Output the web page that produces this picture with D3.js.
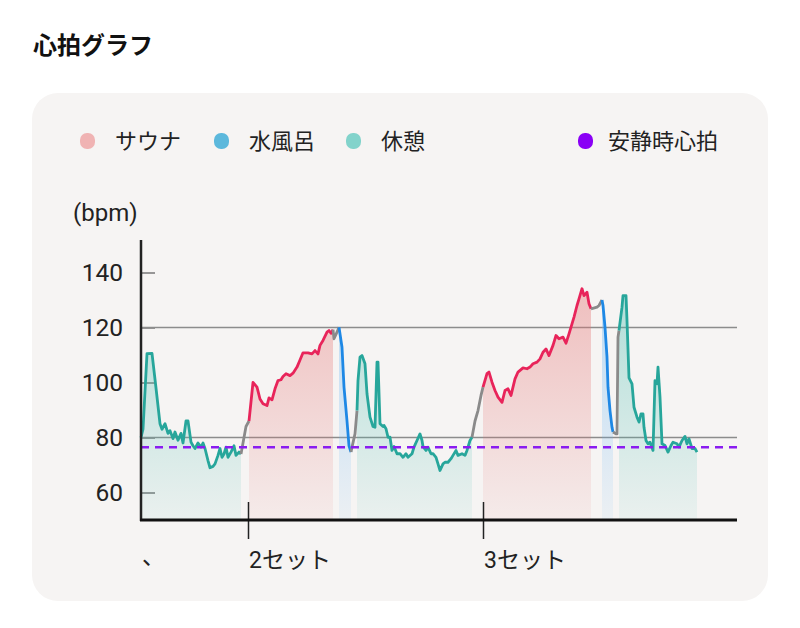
<!DOCTYPE html>
<html lang="ja">
<head>
<meta charset="utf-8">
<script src="https://cdn.jsdelivr.net/npm/d3@7"></script>
<style>
  body { margin: 0; background: #fff; font-family: Roboto, "Noto Sans CJK JP", sans-serif; }
  svg { display: block; }
</style>
</head>
<body>
<svg id="chart" width="800" height="628"></svg>
<script>
// legend categories
const phaseLabels = ["サウナ", "水風呂", "休憩"];
const restLabel = "安静時心拍";

// heart rate samples: [elapsed, bpm]
const hrSamples = [
  [0, 80], [2, 83], [6, 110.5], [11, 110.6], [15, 98], [19, 85], [21, 83], [24, 85], [27, 81.5],
  [29, 82.5], [32, 79.6], [34, 82], [37, 79], [40, 81.5], [42, 78], [45, 86], [47, 86], [50, 78.3],
  [52, 77], [54, 76], [57, 78], [60, 76.5], [62, 78], [64, 76], [67, 71.6], [69, 69], [72, 69.5],
  [74, 70.4], [77, 73.5], [79, 76], [81, 72.8], [83, 74], [85, 76.5], [87, 72.8], [90, 74.7],
  [93, 77], [95, 73.5], [98, 74.7], [100, 74],
  [105, 84], [108, 86],
  [112, 100], [116, 98.3], [119, 94], [122, 92.3], [126, 91.6], [128, 94.4], [131, 93.7],
  [134, 97.7], [137, 100.7], [140, 101], [142, 102.2], [145, 103.2], [149, 102.5], [152, 103.4],
  [156, 105.6], [159, 108.2], [162, 110.8], [167, 110.8], [171, 110.4], [174, 111.6], [177, 110.4],
  [179, 113.5], [182, 115.3], [186, 118.3], [188, 118.9], [190, 117.9], [192, 119.2],
  [193, 115.9], [196, 118.3],
  [198, 120.1], [201, 112.8], [203, 98.3], [206, 86], [208, 77], [210, 74.7],
  [211, 76.5], [214, 81.3],
  [216, 89.8], [217, 100.7], [219, 109.2], [221, 109.8], [224, 106.8], [226, 95.9], [229, 87.4],
  [232, 84], [234, 83.7], [236, 107.4], [237, 107.4], [239, 85], [242, 84], [243, 84.4],
  [245, 83.2], [247, 80.1], [249, 80.1], [251, 75.3], [253, 76.7], [256, 74.1], [259, 74.1],
  [262, 72.8], [265, 74.1], [267, 72.8], [271, 74.1], [273, 76.5], [276, 78.9], [279, 81.3],
  [281, 78.9], [282, 76.7], [285, 75.3], [287, 76.5], [290, 74.1], [292, 74.1], [295, 72.8],
  [297, 70.4], [299, 68], [302, 70.4], [304, 71], [307, 71], [310, 72.3], [312, 73.5],
  [315, 75.3], [317, 73.5], [321, 74.1], [324, 73.5], [326, 75.3], [329, 78.9], [331, 80.1],
  [334, 86], [337, 89.8], [340, 95.3],
  [342, 98.3], [346, 103.2], [348, 103.8], [351, 100.1], [354, 97.1], [357, 94.7], [361, 92.8],
  [364, 97.1], [367, 97.7], [370, 95.3], [374, 101.3], [377, 103.8], [382, 105.3], [386, 105],
  [389, 105.6], [392, 106.8], [396, 107.4], [399, 108.6], [402, 111], [405, 112.2], [408, 109.8],
  [412, 113.5], [415, 117.1], [418, 115.9], [422, 116.5], [425, 114.3], [428, 117.7],
  [431, 121.3], [433, 123.8], [436, 128], [438, 130.4], [441, 134.1], [443, 131.6],
  [446, 132.8], [448, 128.6], [450, 126.8],
  [456, 127.4], [458, 128],
  [461, 130], [462, 128], [464, 120.1], [466, 109.2], [467, 98.3], [469, 89.8], [471, 83.7], [472, 82],
  [475, 81.3], [476, 81.3], [477, 116.5],
  [478, 118.9], [481, 127.4], [482, 131.6], [485, 131.6], [486, 122.5], [488, 101.7],
  [491, 99.5], [493, 91], [496, 87.4], [498, 85.6], [500, 88.6], [502, 88.6], [503, 83.7],
  [505, 78.9], [507, 77.7], [509, 78.3], [512, 75.3], [514, 100.7], [516, 99.5], [517, 105.6],
  [519, 94.7], [521, 77.7], [524, 77.1], [527, 74.7], [530, 77.1], [532, 78.3], [536, 77.7],
  [538, 76.5], [541, 78.9], [544, 80.4], [546, 77.7], [548, 79.5], [551, 76], [554, 76], [556, 74.7]
];

// phases: [kind, start, end]
const phases = [
  ["rest", 0, 100], ["move", 100, 108], ["sauna", 108, 192], ["move", 192, 198],
  ["cold", 198, 210], ["move", 210, 216], ["rest", 216, 331], ["move", 331, 342],
  ["sauna", 342, 450], ["move", 450, 461], ["cold", 461, 472], ["move", 472, 478],
  ["rest", 478, 556]
];

const restingHR = 76.5;
const yTicks = [60, 80, 100, 120, 140];
const gridValues = [80, 120];
const setTicks = [0, 107, 342];
const setLabels = ["、", "2セット", "3セット"];

const lineColor = { rest: "#27a69b", sauna: "#e8245a", cold: "#1e88e5", move: "#8a8a8a" };
const areaColor = { rest: "#4dbfb2", sauna: "#e57373", cold: "#64b5f6" };
const legendColor = ["#f0b3b3", "#5cb8dc", "#82d3cb"];

const svg = d3.select("#chart");

// title
svg.append("text")
  .attr("x", 33).attr("y", 54)
  .style("font-family", "'Noto Sans CJK JP', sans-serif")
  .style("font-weight", "700")
  .style("font-size", "24px")
  .attr("fill", "#111")
  .text("心拍グラフ");

// card
svg.append("rect")
  .attr("x", 32).attr("y", 93).attr("width", 736).attr("height", 508)
  .attr("rx", 26)
  .attr("fill", "#f6f4f3");

// legend
const legendX = [80, 214, 346];
phaseLabels.forEach((name, i) => {
  svg.append("rect")
    .attr("x", legendX[i]).attr("y", 133).attr("width", 15).attr("height", 16).attr("rx", 7)
    .attr("fill", legendColor[i]);
  svg.append("text")
    .attr("x", legendX[i] + 35).attr("y", 149)
    .style("font-family", "'Noto Sans CJK JP', sans-serif")
    .style("font-size", "22px")
    .attr("fill", "#222")
    .text(name);
});
svg.append("rect")
  .attr("x", 578).attr("y", 133).attr("width", 15).attr("height", 16).attr("rx", 7)
  .attr("fill", "#8a00f5");
svg.append("text")
  .attr("x", 608).attr("y", 149)
  .style("font-family", "'Noto Sans CJK JP', sans-serif")
  .style("font-size", "22px")
  .attr("fill", "#222")
  .text(restLabel);

// scales
const x = d3.scaleLinear().domain([0, 596]).range([141, 737]);
const y = d3.scaleLinear().domain([50, 152]).range([520, 239.5]);

const defs = svg.append("defs");
Object.keys(areaColor).forEach(k => {
  const g = defs.append("linearGradient")
    .attr("id", "grad-" + k)
    .attr("gradientUnits", "userSpaceOnUse")
    .attr("x1", 0).attr("x2", 0).attr("y1", y(135)).attr("y2", y(50));
  g.append("stop").attr("offset", 0).attr("stop-color", areaColor[k]).attr("stop-opacity", 0.42);
  g.append("stop").attr("offset", 1).attr("stop-color", areaColor[k]).attr("stop-opacity", 0.07);
});

const plot = svg.append("g");

const area = d3.area()
  .x(d => x(d[0]))
  .y0(y(50))
  .y1(d => y(d[1]));

const line = d3.line()
  .x(d => x(d[0]))
  .y(d => y(d[1]));

// areas
phases.filter(p => p[0] !== "move").forEach(p => {
  const pts = hrSamples.filter(d => d[0] >= p[1] && d[0] <= p[2]);
  plot.append("path")
    .attr("d", area(pts))
    .attr("fill", `url(#grad-${p[0]})`);
});

// y ticks (inside) + labels
const yAxis = svg.append("g")
  .attr("transform", `translate(${x(0)},0)`)
  .call(d3.axisLeft(y).tickValues(yTicks).tickSize(-14).tickPadding(18))
  .call(g => g.select(".domain").remove());
yAxis.selectAll(".tick line").attr("stroke", "#777").attr("stroke-width", 1.5);
yAxis.selectAll(".tick text")
  .attr("fill", "#222")
  .style("font-family", "Roboto, sans-serif")
  .style("font-size", "24.5px");

// grid lines
gridValues.forEach(v => {
  svg.append("line")
    .attr("x1", x(0)).attr("x2", x(596))
    .attr("y1", y(v)).attr("y2", y(v))
    .attr("stroke", "#8c8c8c").attr("stroke-width", 1.5);
});

// heart rate line by phase
phases.forEach(p => {
  const pts = hrSamples.filter(d => d[0] >= p[1] && d[0] <= p[2]);
  plot.append("path")
    .attr("d", line(pts))
    .attr("fill", "none")
    .attr("stroke", lineColor[p[0]])
    .attr("stroke-width", 2.8)
    .attr("stroke-linejoin", "round");
});
svg.node().appendChild(plot.node());

// resting HR
svg.append("line")
  .attr("x1", x(0)).attr("x2", x(596))
  .attr("y1", y(restingHR)).attr("y2", y(restingHR))
  .attr("stroke", "#8a1cf0").attr("stroke-width", 2.5)
  .attr("stroke-dasharray", "8,6");

// axes lines
svg.append("line")
  .attr("x1", x(0)).attr("x2", x(0)).attr("y1", 240).attr("y2", 521)
  .attr("stroke", "#222").attr("stroke-width", 2.5);

const xAxis = svg.append("g")
  .attr("transform", `translate(0,${y(50)})`)
  .call(d3.axisBottom(x).tickValues(setTicks.slice(1)).tickSize(19).tickFormat(""));
xAxis.select(".domain").remove();
xAxis.selectAll(".tick line")
  .attr("y1", -18)
  .attr("stroke", "#222").attr("stroke-width", 1.5);

svg.append("line")
  .attr("x1", x(0) - 1).attr("x2", x(596)).attr("y1", y(50)).attr("y2", y(50))
  .attr("stroke", "#111").attr("stroke-width", 3);

// set labels
setTicks.forEach((t, i) => {
  svg.append("text")
    .attr("x", x(t) + 1).attr("y", i === 0 ? 564 : 568)
    .style("font-family", "Roboto, 'Noto Sans CJK JP', sans-serif")
    .style("font-size", "23px")
    .attr("fill", "#222")
    .text(setLabels[i]);
});

// unit label
svg.append("text")
  .attr("x", 73).attr("y", 221)
  .style("font-family", "Roboto, sans-serif")
  .style("font-size", "24px")
  .attr("fill", "#222")
  .text("(bpm)");
</script>
</body>
</html>
